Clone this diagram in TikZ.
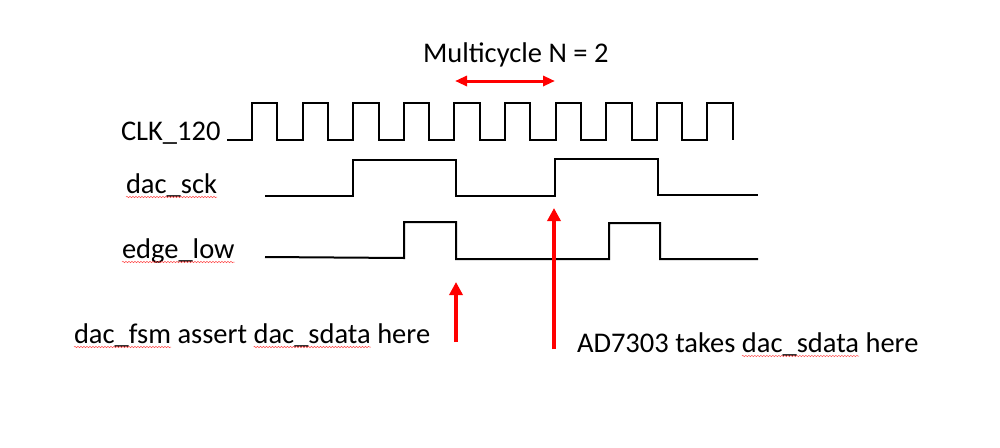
\documentclass[tikz,border=0pt]{standalone}
\usepackage{fontspec}
\setmainfont{Carlito}
\usetikzlibrary{arrows.meta,decorations.pathmorphing,calc}
\begin{document}
\begin{tikzpicture}[x=1pt,y=-1pt,
  lbl/.style={anchor=base west,inner sep=0pt,outer sep=0pt,font=\fontsize{28.5}{34}\selectfont},
  wave/.style={line width=2pt,black,line join=miter},
  redarrow/.style={line width=4pt,red,-{Triangle[width=13pt,length=13pt]}},
  multiarrow/.style={line width=3pt,red,{Triangle[width=10pt,length=12pt]}-{Triangle[width=10pt,length=12pt]}},
  squig/.style={red!70,line width=0.5pt,decorate,decoration={snake,amplitude=0.7pt,segment length=3pt}}]
\useasboundingbox[fill=white] (0,0) rectangle (1000,447);

% title
\node[lbl] (title) at (423,62) {Multicycle N = 2};
\coordinate (mA) at (455,81);
\coordinate (mB) at (555,81);
\draw[multiarrow] (mA) -- (mB);

% signal labels
\node[lbl] (clk) at (121,140) {CLK\_120};
\node[lbl] (sck) at (126,193) {dac\_sck};
\node[lbl] (edl) at (122,258) {edge\_low};
\draw[squig] ($(sck.base west)+(0,4)$) -- ($(sck.base east)+(0,4)$);
\draw[squig] ($(edl.base west)+(0,4)$) -- ($(edl.base east)+(0,4)$);

% CLK_120 waveform
\draw[wave] (227,140) foreach \k in {0,...,9} {
  -- ({252+50.6*\k},140) -- ({252+50.6*\k},103)
  -- ({277.3+50.6*\k},103) -- ({277.3+50.6*\k},140) };

% dac_sck waveform
\draw[wave] (265,196) -- (353,196) -- (353,160) -- (456,160) -- (456,196)
  -- (555,196) -- (555,159) -- (658,159) -- (658,195) -- (758,195);

% edge_low waveform
\draw[wave] (265,257) -- (404,258) -- (404,222) -- (456,222) -- (456,259)
  -- (609,259) -- (609,223) -- (660,223) -- (660,259) -- (758,259);

% red arrows
\coordinate (a1tail) at (456,342);
\coordinate (a1tip) at (456,282);
\coordinate (a2tail) at (554,349);
\coordinate (a2tip) at (554,208);
\draw[redarrow] (a1tail) -- (a1tip);
\draw[redarrow] (a2tail) -- (a2tip);

% bottom texts
\node[lbl] (f1) at (74,343) {dac\_fsm};
\node[lbl] (f2) at (f1.base east) {\hbox{\ assert\ }};
\node[lbl] (f3) at (f2.base east) {dac\_sdata};
\node[lbl] (f4) at (f3.base east) {\hbox{\ here}};
\draw[squig] ($(f1.base west)+(0,4)$) -- ($(f1.base east)+(0,4)$);
\draw[squig] ($(f3.base west)+(0,4)$) -- ($(f3.base east)+(0,4)$);

\node[lbl] (g1) at (577,352) {\hbox{AD7303 takes\ }};
\node[lbl] (g2) at (g1.base east) {dac\_sdata};
\node[lbl] (g3) at (g2.base east) {\hbox{\ here}};
\draw[squig] ($(g2.base west)+(0,4)$) -- ($(g2.base east)+(0,4)$);
\end{tikzpicture}
\end{document}
